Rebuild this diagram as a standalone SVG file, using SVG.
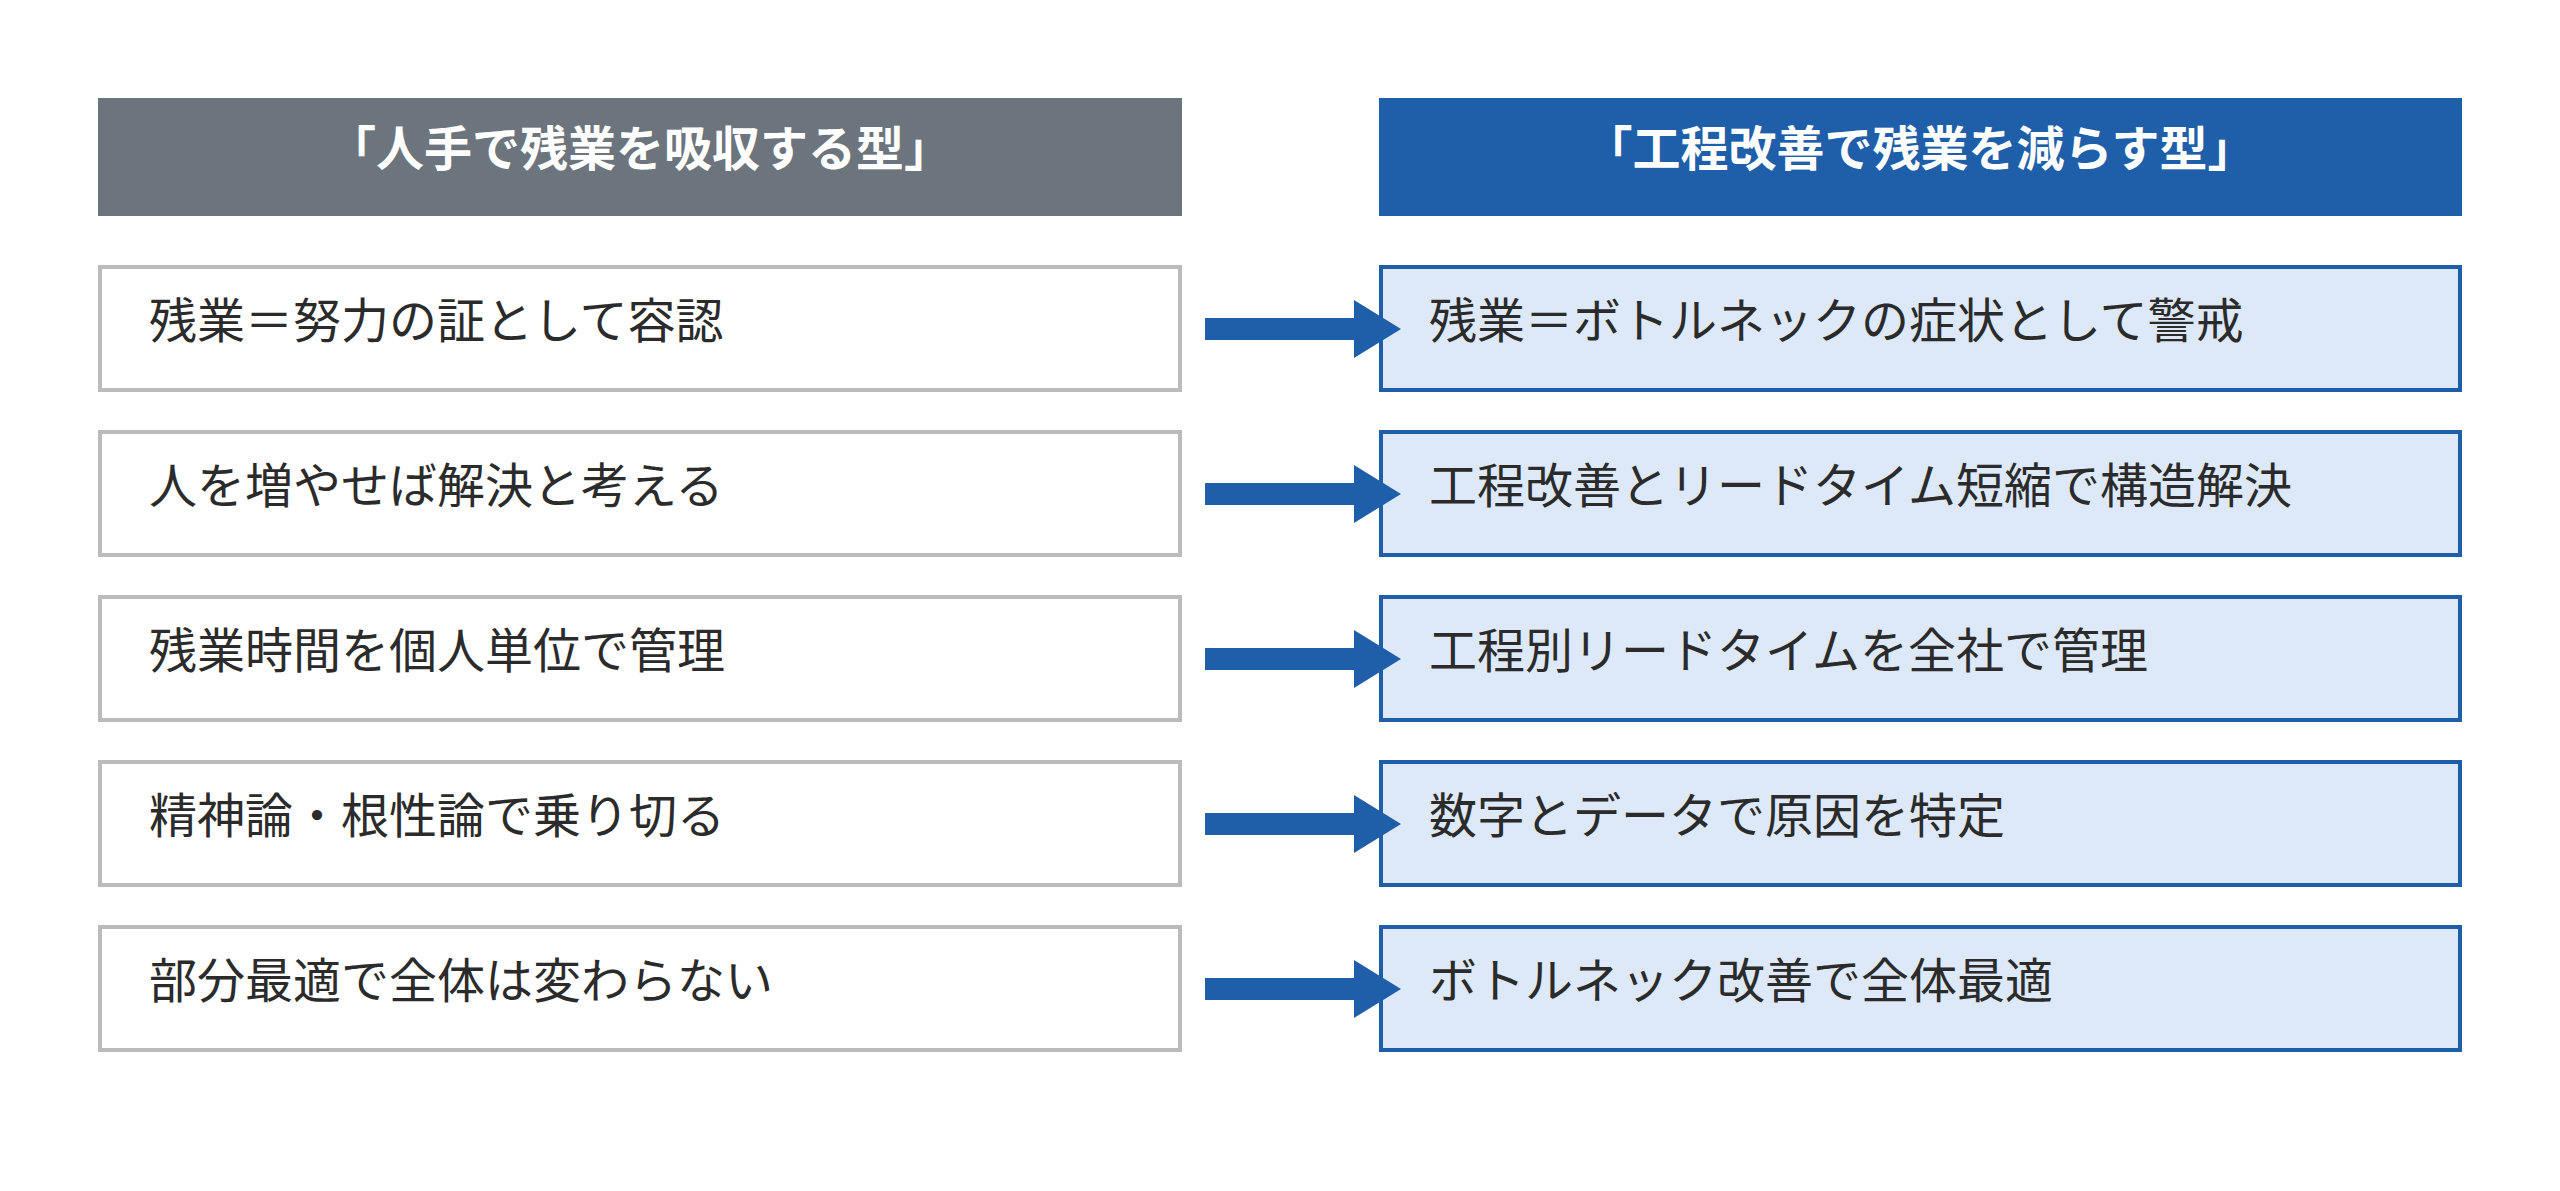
<svg xmlns="http://www.w3.org/2000/svg" width="2560" height="1191" viewBox="0 0 2560 1191">
<style>
text{font-family:"Noto Sans CJK JP","Noto Sans",sans-serif}
.h{font-size:48px;font-weight:bold;fill:#fff;text-anchor:middle}
.t{font-size:48px;fill:#2b2b2b}
.l{fill:#fff;stroke:#bbbbbb;stroke-width:4}
.r{fill:#dde9f8;stroke:#1f5ea8;stroke-width:4}
.a{fill:#1f5ea8}
</style>
<defs><path id="arr" class="a" d="M1205,318 H1354 V300 L1401,329 L1354,358 V340 H1205 Z"/></defs>
<rect width="2560" height="1191" fill="#fff"/>
<g id="header-left"><rect x="98" y="98" width="1084" height="118" fill="#6c757d"/><text class="h" x="640" y="166">「人手で残業を吸収する型」</text></g>
<g id="header-right"><rect x="1379" y="98" width="1083" height="118" fill="#1f5ea8"/><text class="h" x="1920" y="166">「工程改善で残業を減らす型」</text></g>
<g id="l1"><rect class="l" x="100" y="267" width="1080" height="123"/><text class="t" x="149" y="338">残業＝努力の証として容認</text></g>
<g id="l2"><rect class="l" x="100" y="432" width="1080" height="123"/><text class="t" x="149" y="503">人を増やせば解決と考える</text></g>
<g id="l3"><rect class="l" x="100" y="597" width="1080" height="123"/><text class="t" x="149" y="668">残業時間を個人単位で管理</text></g>
<g id="l4"><rect class="l" x="100" y="762" width="1080" height="123"/><text class="t" x="149" y="833">精神論・根性論で乗り切る</text></g>
<g id="l5"><rect class="l" x="100" y="927" width="1080" height="123"/><text class="t" x="149" y="998">部分最適で全体は変わらない</text></g>
<g id="r1"><rect class="r" x="1381" y="267" width="1079" height="123"/><text class="t" x="1429" y="338">残業＝ボトルネックの症状として警戒</text></g>
<g id="r2"><rect class="r" x="1381" y="432" width="1079" height="123"/><text class="t" x="1429" y="503">工程改善とリードタイム短縮で構造解決</text></g>
<g id="r3"><rect class="r" x="1381" y="597" width="1079" height="123"/><text class="t" x="1429" y="668">工程別リードタイムを全社で管理</text></g>
<g id="r4"><rect class="r" x="1381" y="762" width="1079" height="123"/><text class="t" x="1429" y="833">数字とデータで原因を特定</text></g>
<g id="r5"><rect class="r" x="1381" y="927" width="1079" height="123"/><text class="t" x="1429" y="998">ボトルネック改善で全体最適</text></g>
<g id="connectors">
<use href="#arr"/>
<use href="#arr" y="165"/>
<use href="#arr" y="330"/>
<use href="#arr" y="495"/>
<use href="#arr" y="660"/>
</g>
</svg>
